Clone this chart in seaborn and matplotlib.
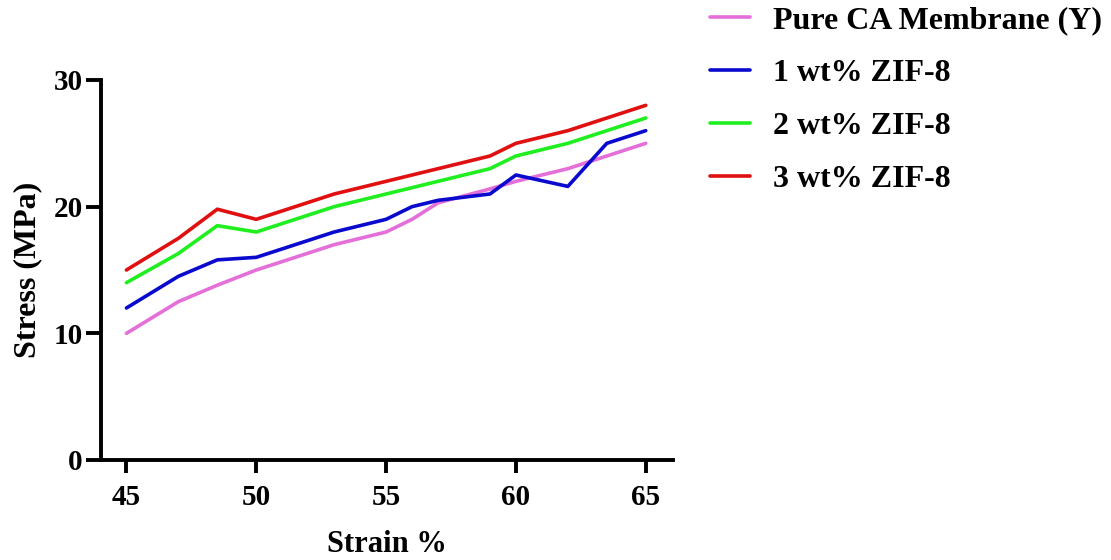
import numpy as np
import pandas as pd
import matplotlib
matplotlib.use("Agg")
import matplotlib.pyplot as plt
import seaborn as sns

strain = [45, 47, 48.5, 50, 53, 55, 56, 57, 59, 60, 62, 63.5, 65]
pure_ca = [10, 12.5, 13.8, 15, 17, 18, 19, 20.3, 21.4, 22, 23, 24, 25]
zif_1 = [12, 14.5, 15.8, 16, 18, 19, 20, 20.5, 21, 22.5, 21.6, 25, 26]
zif_2 = [14, 16.3, 18.5, 18, 20, 21, 21.5, 22, 23, 24, 25, 26, 27]
zif_3 = [15, 17.5, 19.8, 19, 21, 22, 22.5, 23, 24, 25, 26, 27, 28]
series_names = ["Pure CA Membrane (Y)", "1 wt% ZIF-8", "2 wt% ZIF-8", "3 wt% ZIF-8"]
colors = ["#E46FD9", "#0A0ACF", "#1FEF1F", "#E01010"]
x_ticks = [45, 50, 55, 60, 65]
y_ticks = [0, 10, 20, 30]

sns.set_theme(style="ticks")
plt.rcParams['font.family'] = ['Liberation Serif', 'DejaVu Serif']
plt.rcParams['font.weight'] = 'bold'
plt.rcParams['text.color'] = 'black'
plt.rcParams['axes.labelcolor'] = 'black'
plt.rcParams['xtick.color'] = 'black'
plt.rcParams['ytick.color'] = 'black'

frames = []
for name, vals in zip(series_names, [pure_ca, zif_1, zif_2, zif_3]):
    frames.append(pd.DataFrame({"Strain": strain, "Stress": vals, "Series": name}))
df = pd.concat(frames, ignore_index=True)

fig = plt.figure(figsize=(11.11, 5.6), dpi=100)
ax = fig.add_axes([101/1111, 100/560, 572/1111, 380/560])

sns.lineplot(data=df, x="Strain", y="Stress", hue="Series", hue_order=series_names,
             palette=colors, linewidth=2.6, ax=ax, sort=False, estimator=None)

ax.set_xlim(44.02, 66.05)
ax.set_ylim(0, 30)
ax.set_xticks(x_ticks)
ax.set_yticks(y_ticks)
for s in ["top", "right"]:
    ax.spines[s].set_visible(False)
for s in ["left", "bottom"]:
    ax.spines[s].set_linewidth(2.8)
    ax.spines[s].set_color("black")
ax.tick_params(axis="y", length=11, width=2.8, labelsize=21, pad=2, colors="black")
ax.tick_params(axis="x", length=9, width=2.8, labelsize=21, pad=8, colors="black")
for lab in ax.get_xticklabels() + ax.get_yticklabels():
    lab.set_fontweight("bold")

ax.set_xlabel("Strain %", fontsize=22, fontweight="bold", labelpad=14, color="black")
ax.set_ylabel("Stress (MPa)", fontsize=23, fontweight="bold", labelpad=8, color="black")

handles, labels = ax.get_legend_handles_labels()
ax.get_legend().remove()
leg = fig.legend(handles, labels, loc="upper left", bbox_to_anchor=(707/1111, 0.995),
                 frameon=False, fontsize=23, handlelength=1.25, handletextpad=0.72,
                 labelspacing=0.74, borderaxespad=0, borderpad=0.1)
for t in leg.get_texts():
    t.set_fontweight("bold")
    t.set_color("black")
for l in leg.get_lines():
    l.set_linewidth(2.6)

fig.savefig("out.png", dpi=100)
